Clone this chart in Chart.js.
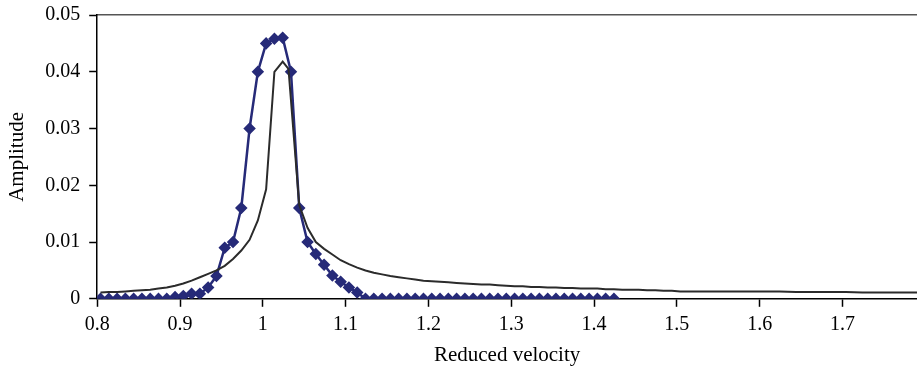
<!DOCTYPE html>
<html>
<head>
<meta charset="utf-8">
<script src="https://cdn.jsdelivr.net/npm/chart.js@4/dist/chart.umd.min.js"></script>
<style>
  html, body { margin: 0; padding: 0; background: #fff; }
  #wrap { width: 917px; height: 370px; }
</style>
</head>
<body>
<div id="wrap"><canvas id="chart"></canvas></div>
<script>
'use strict';

// ****************************************
//            DATA
// ****************************************

// blue series: x = 0.804 + 0.01 * k
const blueX = [
  0.804, 0.814, 0.824, 0.834, 0.844, 0.854, 0.864, 0.874, 0.884, 0.894,
  0.904, 0.914, 0.924, 0.934, 0.944, 0.954, 0.964, 0.974, 0.984, 0.994,
  1.004, 1.014, 1.024, 1.034, 1.044, 1.054, 1.064, 1.074, 1.084, 1.094,
  1.104, 1.114, 1.124, 1.134, 1.144, 1.154, 1.164, 1.174, 1.184, 1.194,
  1.204, 1.214, 1.224, 1.234, 1.244, 1.254, 1.264, 1.274, 1.284, 1.294,
  1.304, 1.314, 1.324, 1.334, 1.344, 1.354, 1.364, 1.374, 1.384, 1.394,
  1.404, 1.414, 1.424
];
const blueY = [
  0, 0, 0, 0, 0, 0, 0, 0, 0, 0.0003,
  0.0005, 0.0009, 0.0009, 0.002, 0.004, 0.009, 0.010, 0.016, 0.030, 0.040,
  0.045, 0.0458, 0.046, 0.040, 0.016, 0.010, 0.0079, 0.006, 0.0041, 0.003,
  0.002, 0.0011, 0, 0, 0, 0, 0, 0, 0, 0,
  0, 0, 0, 0, 0, 0, 0, 0, 0, 0,
  0, 0, 0, 0, 0, 0, 0, 0, 0, 0,
  0, 0, 0
];

// black series
const blackX = [
  0.804, 0.814, 0.824, 0.834, 0.844, 0.854, 0.864, 0.874, 0.884, 0.894,
  0.904, 0.914, 0.924, 0.934, 0.944, 0.954, 0.964, 0.974, 0.984, 0.994,
  1.004, 1.014, 1.024, 1.031, 1.044, 1.054, 1.064, 1.074, 1.084, 1.094,
  1.104, 1.114, 1.124, 1.134, 1.144, 1.154, 1.164, 1.174, 1.184, 1.194,
  1.204, 1.214, 1.224, 1.234, 1.244, 1.254, 1.264, 1.274, 1.284, 1.294,
  1.304, 1.314, 1.324, 1.334, 1.344, 1.354, 1.364, 1.374, 1.384, 1.394,
  1.404, 1.414, 1.424, 1.434, 1.444, 1.454, 1.464, 1.474, 1.484, 1.494,
  1.504, 1.524, 1.544, 1.564, 1.584, 1.604, 1.624, 1.644, 1.664, 1.684,
  1.704, 1.724, 1.744, 1.764, 1.79
];
const blackY = [
  0.0011, 0.0012, 0.0012, 0.0013, 0.0014, 0.0015, 0.0016, 0.0018, 0.0020, 0.0023,
  0.0027, 0.0032, 0.0038, 0.0044, 0.0050, 0.0058, 0.0070, 0.0085, 0.0104, 0.0138,
  0.0193, 0.0400, 0.0418, 0.0405, 0.0165, 0.0125, 0.0100, 0.0088, 0.0078, 0.0068,
  0.0061, 0.0055, 0.0050, 0.0046, 0.0043, 0.0040, 0.0038, 0.0036, 0.0034, 0.0032,
  0.0031, 0.0030, 0.0029, 0.0028, 0.0027, 0.0026, 0.0025, 0.0025, 0.0024, 0.0023,
  0.0022, 0.0022, 0.0021, 0.0021, 0.0020, 0.0020, 0.0019, 0.0019, 0.0018, 0.0018,
  0.0018, 0.0017, 0.0017, 0.0016, 0.0016, 0.0016, 0.0015, 0.0015, 0.0014, 0.0014,
  0.0013, 0.0013, 0.0013, 0.0013, 0.0013, 0.0013, 0.0013, 0.0012, 0.0012, 0.0012,
  0.0012, 0.0011, 0.0011, 0.0011, 0.0011
];

// tick labels
const xTicks = [0.8, 0.9, 1, 1.1, 1.2, 1.3, 1.4, 1.5, 1.6, 1.7];
const yTicks = [0, 0.01, 0.02, 0.03, 0.04, 0.05];

// ****************************************
//            HELPERS
// ****************************************

function toPoints(xs, ys) {
  return xs.map((x, i) => ({ x: x, y: ys[i] }));
}

function fmt(v) {
  return String(parseFloat(v.toFixed(3)));
}

// no extra side padding from the horizontal axes
function noSidePad(axis) {
  axis.paddingRight = 0;
  axis.paddingLeft = 0;
}

// ****************************************
//            CHART RENDERING
// ****************************************

const FONT = 'Liberation Serif';

new Chart(document.getElementById('chart'), {
  type: 'line',
  data: {
    datasets: [{
      data: toPoints(blackX, blackY),
      borderColor: '#2b2b2b',
      borderWidth: 2,
      pointRadius: 0,
      tension: 0
    }, {
      data: toPoints(blueX, blueY),
      borderColor: '#262a78',
      backgroundColor: '#262a78',
      borderWidth: 2.5,
      pointStyle: 'rectRot',
      pointRadius: 4.5,
      tension: 0
    }]
  },
  options: {
    responsive: true,
    maintainAspectRatio: false,
    animation: false,
    layout: { autoPadding: false, padding: { top: 15, right: 0, bottom: 2, left: 5 } },
    plugins: { legend: { display: false }, tooltip: { enabled: false } },
    scales: {
      x: {
        type: 'linear',
        min: 0.8,
        max: 1.79,
        afterBuildTicks: (axis) => { axis.ticks = xTicks.map(v => ({ value: v })); },
        afterFit: noSidePad,
        ticks: { color: '#000', font: { family: FONT, size: 20 }, padding: 6,
          maxRotation: 0, callback: fmt },
        grid: { drawOnChartArea: false, color: '#000', tickLength: 8, tickWidth: 1.5 },
        border: { color: '#000', width: 1.5 },
        title: { display: true, text: 'Reduced velocity', color: '#000',
          font: { family: FONT, size: 21 }, padding: { top: 0, bottom: 0 } }
      },
      xTop: {
        type: 'linear',
        position: 'top',
        min: 0.8,
        max: 1.79,
        afterFit: (axis) => { noSidePad(axis); axis.height = 0; },
        ticks: { display: false },
        grid: { display: false },
        border: { color: '#555', width: 1.5 }
      },
      y: {
        min: 0,
        max: 0.05,
        afterBuildTicks: (axis) => { axis.ticks = yTicks.map(v => ({ value: v })); },
        afterFit: (axis) => { axis.paddingTop = 0; axis.paddingBottom = 0; },
        ticks: { color: '#000', font: { family: FONT, size: 20 }, padding: 9, callback: fmt },
        grid: { drawOnChartArea: false, color: '#000', tickLength: 8, tickWidth: 1.5 },
        border: { color: '#000', width: 1.5 },
        title: { display: true, text: 'Amplitude', color: '#000',
          font: { family: FONT, size: 21 }, padding: { top: 0, bottom: 6 } }
      }
    }
  }
});
</script>
</body>
</html>
